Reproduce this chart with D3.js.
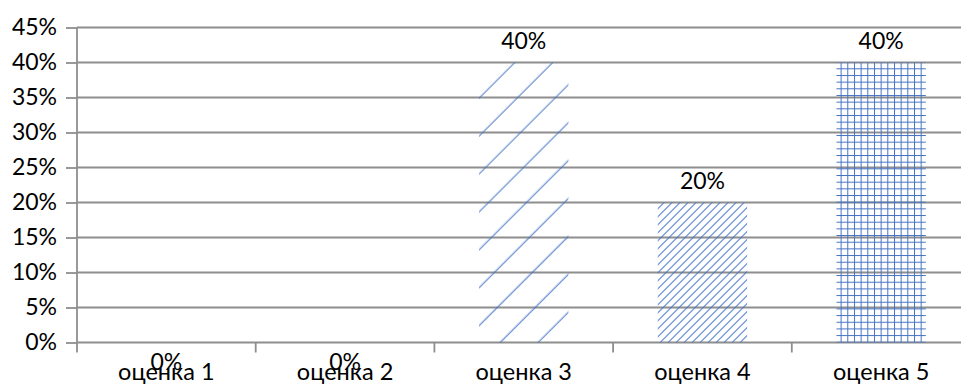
<!DOCTYPE html>
<html>
<head>
<meta charset="utf-8">
<script src="https://cdn.jsdelivr.net/npm/d3@7"></script>
<style>
  html, body { margin: 0; padding: 0; background: #fff; }
  svg { display: block; font-family: Lato, "Noto Sans", sans-serif; }
</style>
</head>
<body>
<svg id="chart" width="961" height="385"></svg>
<script>
// Grade distribution
const categories = ["оценка 1", "оценка 2", "оценка 3", "оценка 4", "оценка 5"];
const values = [0, 0, 0.40, 0.20, 0.40];
const yTicks = [0, 0.05, 0.10, 0.15, 0.20, 0.25, 0.30, 0.35, 0.40, 0.45];

const svg = d3.select("#chart");
const plotLeft = 77, plotRight = 970.5, plotTop = 27.5, plotBottom = 342.5;
const blue = "#4472C4", gridColor = "#8e8e8e", fontSize = 23, catFontSize = 23.5;

const x = d3.scaleBand().domain(categories).range([plotLeft, plotRight])
  .paddingInner(0.5).paddingOuter(0.25);
const y = d3.scaleLinear().domain([0, 0.45]).range([plotBottom, plotTop]);
const pct = d3.format(".0%");

// Hatch fills
const defs = svg.append("defs");
function hatch(id, spacing, offset) {
  const p = defs.append("pattern").attr("id", id)
    .attr("patternUnits", "userSpaceOnUse")
    .attr("width", spacing).attr("height", spacing)
    .attr("patternTransform", "rotate(45)");
  p.append("line").attr("x1", offset).attr("x2", offset)
    .attr("y1", -1).attr("y2", spacing + 1)
    .attr("stroke", blue).attr("stroke-width", 1);
}
hatch("wideUp", 26.8, 6.2);
hatch("narrowUp", 5.66, 1.5);
const grid = defs.append("pattern").attr("id", "smallGrid")
  .attr("patternUnits", "userSpaceOnUse")
  .attr("x", 0.2).attr("y", 1.6)
  .attr("width", 6.67).attr("height", 6.67);
grid.append("line").attr("x1", 0.5).attr("x2", 0.5).attr("y1", 0).attr("y2", 6.67)
  .attr("stroke", blue).attr("stroke-width", 1);
grid.append("line").attr("y1", 0.5).attr("y2", 0.5).attr("x1", 0).attr("x2", 6.67)
  .attr("stroke", blue).attr("stroke-width", 1);

const fillFor = i => ["none", "none", "url(#wideUp)", "url(#narrowUp)", "url(#smallGrid)"][i];

// Horizontal gridlines
svg.append("g").selectAll("line").data(yTicks).join("line")
  .attr("x1", plotLeft).attr("x2", plotRight)
  .attr("y1", d => y(d)).attr("y2", d => y(d))
  .attr("stroke", gridColor).attr("stroke-width", 1.8);

// Y axis with outer ticks
const yAxis = svg.append("g").attr("transform", `translate(${plotLeft},0)`)
  .call(d3.axisLeft(y).tickValues(yTicks).tickFormat(pct).tickSize(11).tickPadding(9));
yAxis.select(".domain").remove();
yAxis.selectAll(".tick line").attr("stroke", gridColor).attr("stroke-width", 1.8);
yAxis.selectAll(".tick text").attr("font-size", fontSize).attr("fill", "#000")
  .attr("font-family", "Lato, 'Noto Sans', sans-serif");
yAxis.append("line").attr("x1", 0).attr("x2", 0)
  .attr("y1", plotTop).attr("y2", plotBottom + 10)
  .attr("stroke", gridColor).attr("stroke-width", 1.8);

// Category boundaries on the baseline
const step = x.step();
const bounds = d3.range(1, categories.length + 1).map(i => plotLeft + i * step);
svg.append("g").selectAll("line").data(bounds).join("line")
  .attr("x1", d => d).attr("x2", d => d)
  .attr("y1", plotBottom).attr("y2", plotBottom + 10)
  .attr("stroke", gridColor).attr("stroke-width", 1.8);

// Bars
svg.append("g").selectAll("rect").data(values).join("rect")
  .attr("x", (d, i) => x(categories[i]))
  .attr("width", x.bandwidth())
  .attr("y", d => y(d))
  .attr("height", d => y(0) - y(d))
  .attr("fill", (d, i) => fillFor(i));

// Value labels (zero values sit just under the baseline)
svg.append("g").selectAll("text").data(values).join("text")
  .attr("x", (d, i) => x(categories[i]) + x.bandwidth() / 2)
  .attr("y", d => d > 0 ? y(d) - 14 : y(0) + 27.5)
  .attr("text-anchor", "middle")
  .attr("font-size", fontSize).attr("fill", "#000")
  .text(d => pct(d));

// Category labels
svg.append("g").selectAll("text").data(categories).join("text")
  .attr("x", d => x(d) + x.bandwidth() / 2)
  .attr("y", 380)
  .attr("text-anchor", "middle")
  .attr("font-size", catFontSize).attr("fill", "#000")
  .text(d => d);
</script>
</body>
</html>
